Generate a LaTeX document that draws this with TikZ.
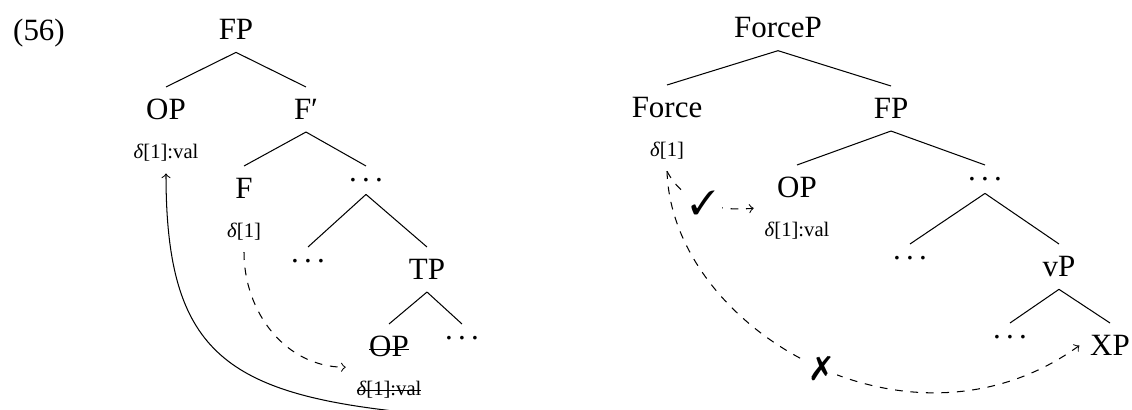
\documentclass[tikz,border=0pt]{standalone}
\usepackage{fontspec}
\setmainfont{Liberation Serif}
\usepackage{pifont}
\newcommand{\smalltxt}[1]{{\fontsize{8}{10}\selectfont #1}}
\newcommand{\tdots}{.\kern0.17em.\kern0.17em.}
\newsavebox\strkbox
\newcommand{\strk}[1]{\sbox\strkbox{#1}\rlap{\usebox\strkbox}\rule[0.22em]{\wd\strkbox}{0.4pt}}
\begin{document}
\begin{tikzpicture}[x=0.3876pt,y=0.3876pt,
  tn/.style={font=\fontsize{12}{14.9}\selectfont, inner xsep=4pt, inner ysep=4.6pt, align=center, anchor=north},
  sym/.style={fill=white, inner sep=2.5pt, font=\fontsize{13}{15}\selectfont},
  dep/.style={dashed,->}]
\useasboundingbox (0,0) rectangle (1132,-410);
% left tree
\node[tn,anchor=base] (ex) at (39,-41) {(56)};
\node[tn,anchor=base] (fp) at (236,-40) {FP};
\node[tn] (op) at (166,-87) {OP\\\smalltxt{\textit{δ}[1]:val}};
\node[tn] (fbar) at (306,-87) {F′};
\node[tn] (f) at (244,-166) {F\\\smalltxt{\textit{δ}[1]}};
\node[tn] (d1) at (366,-166) {\tdots};
\node[tn] (d2) at (308,-247) {\tdots};
\node[tn] (tp) at (427,-247) {TP};
\node[tn] (opx) at (389,-324) {\strk{OP}\\\smalltxt{\strk{\textit{δ}[1]:val}}};
\node[tn] (d3) at (462,-324) {\tdots};
\draw (fp.south) -- (op.north);
\draw (fp.south) -- (fbar.north);
\draw (fbar.south) -- (f.north);
\draw (fbar.south) -- (d1.north);
\draw (d1.south) -- (d2.north);
\draw (d1.south) -- (tp.north);
\draw (tp.south) -- (opx.north);
\draw (tp.south) -- (d3.north);
\draw[dep] (f.south) to[out=-90,in=180] (opx.west);
\draw[->] (opx.south) .. controls +(-170,20) and +(0,-170) .. (op.south);
% right tree
\node[tn,anchor=base] (forcep) at (778,-38) {ForceP};
\node[tn] (force) at (667,-85) {Force\\\smalltxt{\textit{δ}[1]}};
\node[tn] (fp2) at (891,-86) {FP};
\node[tn] (op2) at (797,-165) {OP\\\smalltxt{\textit{δ}[1]:val}};
\node[tn] (d4) at (985,-165) {\tdots};
\node[tn] (d5) at (910,-244) {\tdots};
\node[tn] (vp) at (1059,-244) {vP};
\node[tn] (d6) at (1010,-323) {\tdots};
\node[tn] (xp) at (1110,-323) {XP};
\draw (forcep.south) -- (force.north);
\draw (forcep.south) -- (fp2.north);
\draw (fp2.south) -- (op2.north);
\draw (fp2.south) -- (d4.north);
\draw (d4.south) -- (d5.north);
\draw (d4.south) -- (vp.north);
\draw (vp.south) -- (d6.north);
\draw (vp.south) -- (xp.north);
\draw[dep] (force.south) to[out=-62,in=185] node[sym,pos=0.5]{\ding{51}} (op2.west);
\draw[dep] (force.south) .. controls +(5,-158) and +(-170,-123) .. node[sym,pos=0.52]{\ding{55}} (xp.west);
\end{tikzpicture}
\end{document}
